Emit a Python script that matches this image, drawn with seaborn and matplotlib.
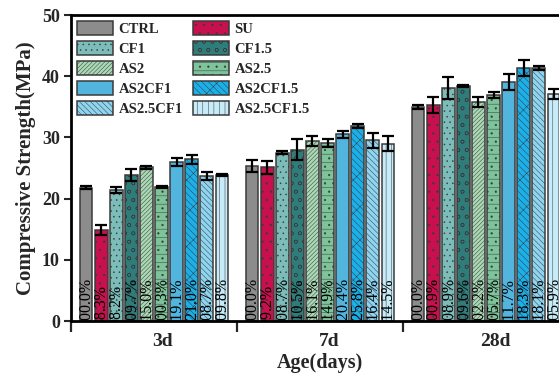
import numpy as np
import pandas as pd
import matplotlib
matplotlib.use("Agg")
import matplotlib.pyplot as plt
import matplotlib.transforms as mtransforms
from matplotlib.patches import Patch
import seaborn as sns

# ---- data -------------------------------------------------------------
ages = ["3d", "7d", "28d"]
groups = ["CTRL", "SU", "CF1", "CF1.5", "AS2", "AS2.5",
          "AS2CF1", "AS2CF1.5", "AS2.5CF1", "AS2.5CF1.5"]

strength_3d = [21.8, 14.9, 21.4, 23.9, 25.1, 21.9, 26.0, 26.4, 23.7, 23.9]
strength_7d = [25.3, 25.1, 27.5, 28.0, 29.4, 29.1, 30.5, 31.9, 29.5, 29.0]
strength_28d = [35.0, 35.3, 38.1, 38.4, 35.8, 37.0, 39.1, 41.4, 41.3, 37.1]

err_3d = [0.3, 0.8, 0.5, 1.0, 0.3, 0.2, 0.7, 0.8, 0.6, 0.2]
err_7d = [1.0, 1.0, 0.2, 1.7, 0.8, 0.6, 0.6, 0.3, 1.3, 1.3]
err_28d = [0.3, 1.3, 1.8, 0.2, 0.8, 0.5, 1.3, 1.3, 0.3, 0.8]

pct_3d = ["100.0%", "68.3%", "98.2%", "109.7%", "115.0%",
          "100.3%", "119.1%", "121.0%", "108.7%", "109.8%"]
pct_7d = ["100.0%", "99.2%", "108.7%", "110.5%", "116.1%",
          "114.9%", "120.4%", "125.8%", "116.4%", "114.5%"]
pct_28d = ["100.0%", "100.9%", "108.9%", "109.6%", "102.2%",
           "105.7%", "111.7%", "118.3%", "118.1%", "105.9%"]

colors = ["#8C8C8C", "#C8104E", "#7DBDB9", "#2F7D7A", "#A9D9B5",
          "#7DC49A", "#52B5DE", "#1BB0EA", "#8DD5F0", "#C6ECF9"]
hatches = ["", "..", "...", "oo", "////////", "--..",
           "", "\\\\\\\\\\/", "\\\\\\\\\\\\", "|||"]

# ---- long-form table --------------------------------------------------
values = [strength_3d, strength_7d, strength_28d]
errors = [err_3d, err_7d, err_28d]
labels = [pct_3d, pct_7d, pct_28d]
rows = []
for ai, age in enumerate(ages):
    for gi, g in enumerate(groups):
        rows.append({"Age": age, "Group": g, "Strength": values[ai][gi],
                     "Err": errors[ai][gi], "Pct": labels[ai][gi]})
df = pd.DataFrame(rows)

# ---- style ------------------------------------------------------------
sns.set_theme(style="ticks")
serif = ["Liberation Serif", "DejaVu Serif"]
plt.rcParams["font.family"] = serif
plt.rcParams["hatch.linewidth"] = 0.35

fig = plt.figure(figsize=(5.59, 3.75), dpi=100)
ax = fig.add_axes([71 / 559, 54 / 375, 498 / 559, 306 / 375])

palette = dict(zip(groups, colors))
sns.barplot(data=df, x="Age", y="Strength", hue="Group",
            order=ages, hue_order=groups, palette=palette,
            width=0.91, gap=0.15, errorbar=None, legend=False,
            saturation=1, ax=ax)


def darker(c, f=0.5):
    r, g, b = matplotlib.colors.to_rgb(c)
    return (r * f, g * f, b * f)


# seaborn orders patches hue-major: all ages for group 0, then group 1...
for gi, g in enumerate(groups):
    for ai, age in enumerate(ages):
        p = ax.patches[gi * len(ages) + ai]
        p.set_edgecolor("#3a3a3a")
        p.set_linewidth(1.1)
        if hatches[gi]:
            p.set_hatch(hatches[gi])
            if hasattr(p, "set_hatchcolor"):
                p.set_hatchcolor(darker(colors[gi]))
        cx = p.get_x() + p.get_width() / 2
        row = df[(df.Age == age) & (df.Group == g)].iloc[0]
        ax.errorbar(cx, row.Strength, yerr=row.Err, fmt="none",
                    ecolor="black", elinewidth=1.6, capsize=4.5,
                    capthick=1.6, zorder=4)
        ax.text(cx, -0.8, row.Pct, rotation=90, ha="center", va="bottom",
                fontsize=11.5, color="black", family=serif, clip_on=True,
                zorder=5)

# ---- axes -------------------------------------------------------------
ax.set_xlim(-0.5, 2.5)
ax.set_ylim(0, 50)
ax.set_yticks([0, 10, 20, 30, 40, 50])
ax.tick_params(axis="y", direction="out", length=5, width=1.5,
               labelsize=13, pad=3)
for t in ax.get_yticklabels():
    t.set_fontweight("bold")

ax.set_xticks([0, 1, 2])
ax.set_xticklabels(ages, fontsize=14, fontweight="bold")
ax.set_xticks([-0.5, 0.5, 1.5], minor=True)
ax.tick_params(axis="x", which="major", length=0, pad=9)
ax.tick_params(axis="x", which="minor", direction="out", length=8, width=1.6)
offset = mtransforms.ScaledTranslation(9 / 100, 0, fig.dpi_scale_trans)
for t in ax.get_xticklabels():
    t.set_transform(t.get_transform() + offset)

ax.set_xlabel("Age(days)", fontsize=14.5, fontweight="bold", labelpad=2)
ax.set_ylabel("Compressive Strength(MPa)", fontsize=15, fontweight="bold",
              labelpad=4)

for side in ["left", "bottom", "top", "right"]:
    ax.spines[side].set_linewidth(2)
    ax.spines[side].set_color("black")

# ---- legend (row-wise fill: two entries per row) ----------------------
order = list(range(0, len(groups), 2)) + list(range(1, len(groups), 2))
handles = []
for i in order:
    h = Patch(facecolor=colors[i], edgecolor="#3a3a3a", hatch=hatches[i],
              linewidth=1.1, label=groups[i])
    handles.append(h)
leg = ax.legend(handles=handles, ncol=2, loc="upper left",
                bbox_to_anchor=(0.0, 1.0), borderaxespad=0.15,
                prop={"family": serif, "weight": "bold", "size": 10.5},
                handlelength=2.5, handleheight=1.1, labelspacing=0.35,
                handletextpad=0.35, columnspacing=0.7, borderpad=0.25,
                frameon=False)
for h, i in zip(leg.legend_handles, order):
    if hatches[i] and hasattr(h, "set_hatchcolor"):
        h.set_hatchcolor(darker(colors[i]))

fig.savefig("out.png", dpi=100)
